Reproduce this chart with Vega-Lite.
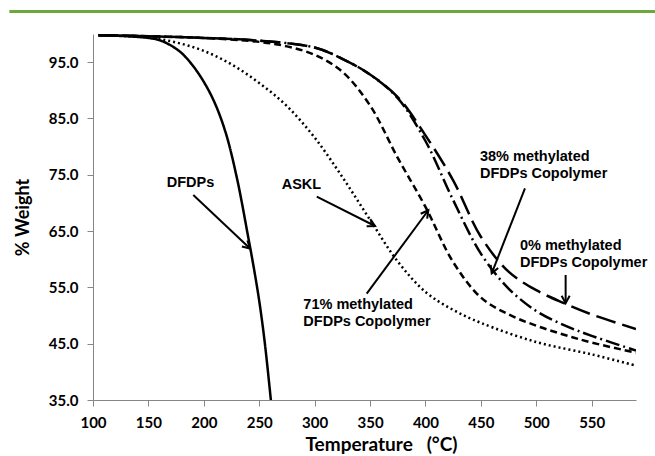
{
  "$schema": "https://vega.github.io/schema/vega-lite/v6.json",
  "width": 543,
  "height": 366,
  "autosize": "none",
  "padding": {"left": 93, "top": 34, "right": 19, "bottom": 56},
  "background": "white",
  "config": {"view": {"stroke": null}},
  "datasets": {
    "curves": [
      {"series": "DFDPs", "T": 105, "W": 99.8}, {"series": "DFDPs", "T": 130, "W": 99.6}, {"series": "DFDPs", "T": 150, "W": 99.3}, {"series": "DFDPs", "T": 160, "W": 98.9}, {"series": "DFDPs", "T": 170, "W": 98.0}, {"series": "DFDPs", "T": 180, "W": 96.6}, {"series": "DFDPs", "T": 190, "W": 94.4}, {"series": "DFDPs", "T": 200, "W": 91.5}, {"series": "DFDPs", "T": 210, "W": 87.7}, {"series": "DFDPs", "T": 220, "W": 82.3}, {"series": "DFDPs", "T": 230, "W": 74.3}, {"series": "DFDPs", "T": 240, "W": 64.0}, {"series": "DFDPs", "T": 245, "W": 58.6}, {"series": "DFDPs", "T": 250, "W": 52.6}, {"series": "DFDPs", "T": 255, "W": 45.2}, {"series": "DFDPs", "T": 260.5, "W": 35.0},
      {"series": "ASKL", "T": 105, "W": 99.8}, {"series": "ASKL", "T": 125, "W": 99.7}, {"series": "ASKL", "T": 150, "W": 99.4}, {"series": "ASKL", "T": 175, "W": 98.5}, {"series": "ASKL", "T": 200, "W": 97.0}, {"series": "ASKL", "T": 225, "W": 94.6}, {"series": "ASKL", "T": 250, "W": 91.3}, {"series": "ASKL", "T": 275, "W": 87.2}, {"series": "ASKL", "T": 300, "W": 81.6}, {"series": "ASKL", "T": 325, "W": 74.6}, {"series": "ASKL", "T": 350, "W": 67.0}, {"series": "ASKL", "T": 375, "W": 59.6}, {"series": "ASKL", "T": 400, "W": 54.2}, {"series": "ASKL", "T": 425, "W": 51.0}, {"series": "ASKL", "T": 450, "W": 48.7}, {"series": "ASKL", "T": 500, "W": 45.3}, {"series": "ASKL", "T": 550, "W": 43.1}, {"series": "ASKL", "T": 590, "W": 41.1},
      {"series": "71%", "T": 105, "W": 99.8}, {"series": "71%", "T": 150, "W": 99.6}, {"series": "71%", "T": 200, "W": 99.3}, {"series": "71%", "T": 250, "W": 98.6}, {"series": "71%", "T": 275, "W": 97.8}, {"series": "71%", "T": 300, "W": 96.3}, {"series": "71%", "T": 325, "W": 93.3}, {"series": "71%", "T": 350, "W": 87.3}, {"series": "71%", "T": 375, "W": 78.0}, {"series": "71%", "T": 400, "W": 69.3}, {"series": "71%", "T": 425, "W": 59.5}, {"series": "71%", "T": 450, "W": 53.2}, {"series": "71%", "T": 475, "W": 50.2}, {"series": "71%", "T": 500, "W": 48.2}, {"series": "71%", "T": 525, "W": 46.6}, {"series": "71%", "T": 550, "W": 45.2}, {"series": "71%", "T": 590, "W": 43.4},
      {"series": "38%", "T": 105, "W": 99.8}, {"series": "38%", "T": 150, "W": 99.6}, {"series": "38%", "T": 200, "W": 99.3}, {"series": "38%", "T": 250, "W": 98.8}, {"series": "38%", "T": 300, "W": 97.6}, {"series": "38%", "T": 325, "W": 95.6}, {"series": "38%", "T": 350, "W": 92.8}, {"series": "38%", "T": 375, "W": 88.6}, {"series": "38%", "T": 400, "W": 81.0}, {"series": "38%", "T": 425, "W": 70.5}, {"series": "38%", "T": 450, "W": 61.0}, {"series": "38%", "T": 475, "W": 54.8}, {"series": "38%", "T": 500, "W": 50.8}, {"series": "38%", "T": 525, "W": 48.3}, {"series": "38%", "T": 550, "W": 46.4}, {"series": "38%", "T": 590, "W": 43.8},
      {"series": "0%", "T": 105, "W": 99.8}, {"series": "0%", "T": 150, "W": 99.6}, {"series": "0%", "T": 200, "W": 99.3}, {"series": "0%", "T": 250, "W": 98.8}, {"series": "0%", "T": 300, "W": 97.6}, {"series": "0%", "T": 325, "W": 95.6}, {"series": "0%", "T": 350, "W": 92.8}, {"series": "0%", "T": 375, "W": 88.8}, {"series": "0%", "T": 400, "W": 82.0}, {"series": "0%", "T": 425, "W": 74.0}, {"series": "0%", "T": 450, "W": 64.0}, {"series": "0%", "T": 475, "W": 57.8}, {"series": "0%", "T": 500, "W": 54.5}, {"series": "0%", "T": 525, "W": 52.2}, {"series": "0%", "T": 550, "W": 50.2}, {"series": "0%", "T": 590, "W": 47.6}
    ],
    "arrows": [
      {"name": "DFDPs", "T": 190.5, "W": 71.4, "T2": 241.7, "W2": 61.9, "ang": 133.2},
      {"name": "ASKL", "T": 301.9, "W": 71.1, "T2": 354.5, "W2": 65.9, "ang": 116.7},
      {"name": "71%", "T": 347.0, "W": 53.9, "T2": 402.6, "W2": 68.7, "ang": 36.5},
      {"name": "38%", "T": 489.8, "W": 72.6, "T2": 459.8, "W2": 57.5, "ang": 201.4},
      {"name": "0%", "T": 526.5, "W": 57.2, "T2": 526.5, "W2": 52.2, "ang": 180}
    ],
    "labels": [
      {"T": 166.5, "W": 73.5, "text": "DFDPs"},
      {"T": 270.3, "W": 73.2, "text": "ASKL"},
      {"T": 289.8, "W": 51.9, "text": "71% methylated"},
      {"T": 289.8, "W": 48.9, "text": "DFDPs Copolymer"},
      {"T": 449.2, "W": 78.2, "text": "38% methylated"},
      {"T": 449.2, "W": 75.2, "text": "DFDPs Copolymer"},
      {"T": 485.3, "W": 62.4, "text": "0% methylated"},
      {"T": 485.3, "W": 59.4, "text": "DFDPs Copolymer"}
    ],
    "banner": [{"T": 24.5, "T2": 607.5, "W": 104.0}]
  },
  "layer": [
    {
      "data": {"name": "curves"},
      "mark": {"type": "line", "interpolate": "catmull-rom", "strokeWidth": 2.5, "color": "black", "clip": true},
      "encoding": {
        "x": {
          "field": "T", "type": "quantitative",
          "scale": {"domain": [100, 590], "nice": false, "zero": false},
          "axis": {
            "title": "Temperature \u00a0\u00a0(°C)",
            "values": [100, 125, 150, 175, 200, 225, 250, 275, 300, 325, 350, 375, 400, 425, 450, 475, 500, 525, 550, 575],
            "format": "d",
            "labelExpr": "datum.value % 50 === 0 ? datum.label : ''",
            "labelOverlap": false,
            "labelFlush": false,
            "grid": false,
            "domainColor": "#868686",
            "tickColor": "#868686",
            "tickSize": {"condition": {"test": "datum.value % 50 === 0", "value": 6}, "value": 4},
            "labelFont": "Lato", "labelFontWeight": "bold", "labelFontSize": 15, "labelColor": "black",
            "labelPadding": 9,
            "titleFont": "Lato", "titleFontWeight": "bold", "titleFontSize": 19, "titleColor": "black",
            "titlePadding": 5,
            "titleX": 288
          }
        },
        "y": {
          "field": "W", "type": "quantitative",
          "scale": {"domain": [35, 100], "nice": false, "zero": false},
          "axis": {
            "title": "% Weight",
            "values": [35, 40, 45, 50, 55, 60, 65, 70, 75, 80, 85, 90, 95, 100],
            "format": ".1f",
            "labelExpr": "datum.value % 10 === 5 ? datum.label : ''",
            "labelOverlap": false,
            "labelFlush": false,
            "grid": false,
            "domainColor": "#868686",
            "tickColor": "#868686",
            "tickSize": {"condition": {"test": "datum.value % 10 === 5", "value": 6}, "value": 4},
            "labelFont": "Lato", "labelFontWeight": "bold", "labelFontSize": 15, "labelColor": "black",
            "labelPadding": 9,
            "titleFont": "Lato", "titleFontWeight": "bold", "titleFontSize": 18, "titleColor": "black",
            "titlePadding": 16
          }
        },
        "detail": {"field": "series"},
        "strokeDash": {
          "field": "series", "type": "nominal", "legend": null,
          "scale": {"domain": ["DFDPs", "ASKL", "71%", "38%", "0%"], "range": [[1, 0], [2, 3], [7, 4], [14, 4, 2, 4], [20, 7]]}
        }
      }
    },
    {
      "data": {"name": "arrows"},
      "mark": {"type": "rule", "color": "black", "strokeWidth": 2},
      "encoding": {
        "x": {"field": "T", "type": "quantitative"},
        "y": {"field": "W", "type": "quantitative"},
        "x2": {"field": "T2"},
        "y2": {"field": "W2"}
      }
    },
    {
      "data": {"name": "arrows"},
      "mark": {"type": "point", "shape": "M-0.6,1.1L0,0L0.6,1.1", "filled": false, "stroke": "black", "strokeWidth": 2, "size": 180, "opacity": 1},
      "encoding": {
        "x": {"field": "T2", "type": "quantitative"},
        "y": {"field": "W2", "type": "quantitative"},
        "angle": {"field": "ang", "type": "quantitative", "scale": null}
      }
    },
    {
      "data": {"name": "labels"},
      "mark": {"type": "text", "align": "left", "baseline": "middle", "font": "Liberation Sans", "fontWeight": "bold", "fontSize": 14.5, "color": "black"},
      "encoding": {
        "x": {"field": "T", "type": "quantitative"},
        "y": {"field": "W", "type": "quantitative"},
        "text": {"field": "text"}
      }
    },
    {
      "data": {"name": "banner"},
      "mark": {"type": "rule", "color": "#6aaa3c", "strokeWidth": 3},
      "encoding": {
        "x": {"field": "T", "type": "quantitative"},
        "x2": {"field": "T2"},
        "y": {"field": "W", "type": "quantitative"}
      }
    }
  ]
}
